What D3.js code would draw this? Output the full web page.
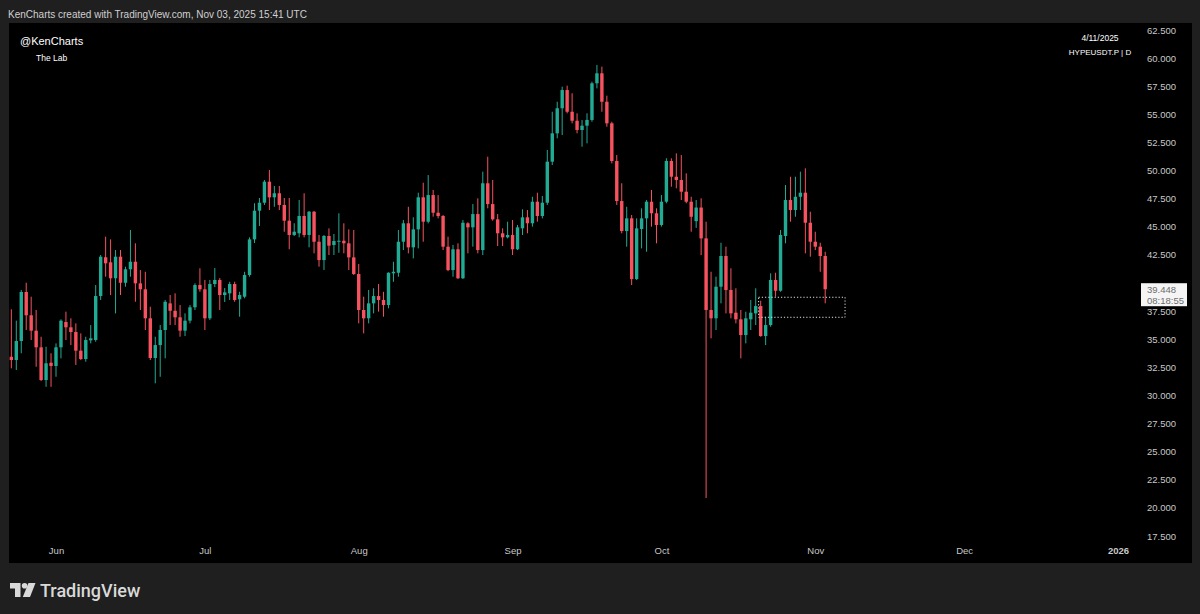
<!DOCTYPE html>
<html><head><meta charset="utf-8">
<script src="https://cdn.jsdelivr.net/npm/d3@7"></script>
<style>
html,body{margin:0;padding:0;background:#1f1f1f;}
svg{display:block;}
</style></head><body>
<svg id="chart" width="1200" height="614"></svg>
<script>
// ---- DATA ----
const startDate = "2025-05-23"; // first daily candle, HYPEUSDT.P 1D
const open = [33.44,33.15,34.84,39.20,37.13,35.76,34.28,31.37,32.91,32.62,
34.28,36.53,36.06,35.64,33.98,33.24,34.90,34.93,38.84,42.29,
41.84,40.42,42.34,40.02,41.22,41.89,39.97,39.44,36.86,33.33,
34.48,35.82,38.19,37.53,36.95,35.76,36.65,37.84,39.82,39.44,
36.86,39.91,40.27,38.93,39.08,39.91,38.55,38.78,40.71,43.88,
46.43,47.14,49.01,47.62,47.98,46.94,45.54,44.27,44.42,45.96,
44.27,46.34,43.67,42.04,44.18,43.38,43.67,43.76,43.53,42.28,
40.80,37.60,36.86,38.19,38.84,38.49,38.04,40.86,40.91,43.67,
45.31,43.17,44.77,47.62,45.45,47.82,46.25,45.96,43.23,41.15,
43.00,40.42,45.31,44.95,46.13,42.93,48.87,47.02,45.66,44.42,
44.06,44.27,43.00,44.86,45.84,45.31,47.23,45.96,47.14,50.79,
53.31,55.54,57.16,55.23,54.43,53.61,53.99,54.50,57.76,58.65,
56.12,54.20,50.85,47.29,44.62,45.75,40.35,44.80,45.75,47.23,
46.20,45.16,47.23,50.85,49.45,49.16,48.12,47.23,45.50,46.71,
43.97,37.60,36.86,39.67,42.40,39.38,37.36,36.77,35.37,36.77,
37.30,37.95,35.28,36.26,40.27,39.31,44.18,47.38,46.49,47.67,
48.03,45.36,43.67,43.23,42.40];
const high = [37.66,36.65,39.38,40.02,38.78,37.60,35.22,34.33,33.75,34.63,
36.77,37.45,36.86,36.41,35.52,35.22,36.26,39.82,42.49,44.12,
43.88,42.93,42.93,41.45,44.71,43.53,41.15,41.00,37.89,35.22,
36.26,38.49,38.93,39.08,38.04,37.30,38.04,39.97,41.31,40.27,
40.27,41.33,40.44,39.55,40.11,40.11,39.22,41.00,44.06,47.09,
47.56,49.16,50.05,48.63,48.63,47.56,47.56,45.31,47.38,47.98,
46.40,46.40,44.27,44.27,44.86,44.36,46.20,45.31,44.77,44.71,
41.69,38.78,39.38,39.53,39.91,39.22,40.95,41.89,44.71,45.60,
46.78,45.84,48.03,48.92,49.60,48.27,47.82,46.05,44.12,43.38,
43.53,45.60,45.40,47.02,47.53,49.90,51.23,49.16,46.13,44.86,
45.45,45.60,45.16,46.55,46.49,47.67,48.03,47.74,51.83,55.23,
56.12,57.46,57.55,56.87,55.09,54.50,55.09,57.90,59.39,59.24,
56.66,54.34,51.38,48.87,46.78,46.05,45.75,46.64,47.38,48.27,
46.64,47.82,51.09,51.09,51.53,51.38,49.75,47.67,47.38,47.53,
45.45,41.00,40.56,43.58,43.23,41.31,39.53,37.60,37.45,38.49,
39.53,38.42,37.00,40.86,40.91,44.71,48.71,49.45,49.45,49.90,
50.20,46.34,44.56,43.58,42.78];
const low = [32.41,32.26,33.75,35.82,34.93,32.55,31.28,30.77,30.77,31.66,
33.30,34.93,34.48,32.71,33.15,33.00,34.63,34.78,38.49,40.56,
38.93,37.30,38.93,39.67,40.56,38.33,37.60,35.82,33.15,31.08,
31.66,33.30,36.26,36.26,35.22,35.28,36.41,37.60,39.22,35.82,
36.71,39.64,37.60,38.31,38.49,38.33,37.00,38.64,40.56,43.56,
45.07,46.94,46.49,46.78,46.49,44.56,43.00,44.18,44.06,44.06,
43.17,42.64,41.45,41.15,42.49,42.49,42.69,42.64,41.15,40.71,
36.41,35.52,36.41,37.30,37.45,37.00,37.75,40.11,40.56,42.93,
42.64,42.19,43.08,43.67,45.30,45.90,45.75,42.93,41.05,40.56,
40.35,40.35,42.64,43.23,42.64,42.49,46.64,45.54,43.29,43.29,
43.97,42.49,42.93,44.27,44.42,45.01,45.45,45.75,46.94,50.49,
52.87,53.16,55.09,54.20,53.31,52.12,52.42,54.34,57.31,55.23,
53.90,50.64,46.94,44.42,43.23,39.82,40.27,43.08,42.78,45.01,
43.53,45.01,47.09,48.56,48.42,47.38,47.09,44.56,44.90,42.49,
20.88,35.08,35.82,38.19,37.30,36.86,36.41,33.30,34.63,35.82,
36.26,35.22,34.48,36.11,38.78,39.22,43.53,45.45,45.89,46.49,
42.64,42.34,42.93,41.00,38.19];
const close = [33.15,34.84,39.20,37.13,35.76,34.28,31.37,32.86,32.62,34.28,
36.65,36.06,35.64,33.98,33.24,34.93,35.08,38.84,42.34,41.75,
40.42,42.34,40.02,41.22,41.89,39.97,39.44,36.86,33.33,34.48,
35.82,38.33,37.53,36.95,35.76,36.65,37.84,39.82,39.44,36.86,
39.91,40.27,38.93,39.17,39.91,38.49,38.93,40.71,43.88,46.43,
47.14,49.01,47.62,47.98,46.94,45.54,44.27,44.56,45.96,44.27,
46.34,43.67,42.04,44.18,43.32,43.73,43.76,43.53,42.28,40.80,
37.60,36.86,38.19,38.84,38.49,38.04,40.91,41.00,43.67,45.31,
43.17,44.77,47.62,45.45,47.82,46.25,45.96,43.23,41.15,43.00,
40.42,45.36,44.95,46.13,42.93,48.87,47.02,45.66,44.42,44.06,
44.27,43.00,44.95,45.84,45.31,47.23,45.96,47.14,50.79,53.31,
55.54,57.16,55.23,54.43,53.61,53.99,54.50,57.76,58.65,56.12,
54.20,50.85,47.29,44.62,45.75,40.35,44.86,45.75,47.23,46.20,
45.16,47.23,50.85,49.45,49.16,48.12,47.23,45.89,46.71,43.97,
37.60,36.86,39.67,42.40,39.38,37.30,36.77,35.37,36.86,37.36,
37.95,35.28,36.26,40.27,39.31,44.27,47.38,46.49,47.67,48.03,
45.36,43.67,43.23,42.40,39.448];
const priceTicks = [17.5,20,22.5,25,27.5,30,32.5,35,37.5,40,42.5,45,47.5,50,52.5,55,57.5,60,62.5];
const monthTicks = ["2025-06-01","2025-07-01","2025-08-01","2025-09-01","2025-10-01","2025-11-01","2025-12-01","2026-01-01"];
const monthLabels = ["Jun","Jul","Aug","Sep","Oct","Nov","Dec","2026"];
const lastPrice = 39.448;
const countdown = "08:18:55";
const zoneDates = ["2025-10-20T14:00:00Z","2025-11-07T00:00:00Z"];
const zonePrices = [38.73, 36.95];
const headerText = "KenCharts created with TradingView.com, Nov 03, 2025 15:41 UTC";
const author = "@KenCharts";
const subtitle = "The Lab";
const symbolDate = "4/11/2025";
const symbolText = "HYPEUSDT.P | D";

// ---- LAYOUT ----
const svg = d3.select("#chart");
const UP = "#22ab94", DOWN = "#f7525f";
const FONT = "'Liberation Sans', Arial, sans-serif";
const pane = {x0: 9, y0: 23, x1: 1192, y1: 563};

svg.append("rect").attr("x",0).attr("y",0).attr("width",1200).attr("height",614).attr("fill","#1f1f1f");
svg.append("rect").attr("x",pane.x0).attr("y",pane.y0).attr("width",pane.x1-pane.x0).attr("height",pane.y1-pane.y0).attr("fill","#000");

const parse = d3.utcParse("%Y-%m-%d");
const t0 = parse(startDate);
const data = close.map((c,i)=>({date:d3.utcDay.offset(t0,i), o:open[i], h:high[i], l:low[i], c:c}));

const x = d3.scaleUtc().domain([parse("2025-06-01"), parse("2026-01-01")]).range([56, 1118]);
const y = d3.scaleLinear().domain([17.5, 62.5]).range([536, 30]);

const clipId = "plotclip";
svg.append("clipPath").attr("id",clipId).append("rect")
  .attr("x",pane.x0).attr("y",pane.y0).attr("width",1135-pane.x0).attr("height",540-pane.y0);

const plot = svg.append("g").attr("clip-path",`url(#${clipId})`);
const bw = 3.4;
const cg = plot.selectAll("g.candle").data(data).join("g").attr("class","candle");
cg.append("line")
  .attr("x1",d=>x(d.date)).attr("x2",d=>x(d.date))
  .attr("y1",d=>y(d.h)).attr("y2",d=>y(d.l))
  .attr("stroke",d=>d.c>=d.o?UP:DOWN).attr("stroke-width",1);
cg.append("rect")
  .attr("x",d=>x(d.date)-bw/2).attr("width",bw)
  .attr("y",d=>y(Math.max(d.o,d.c)))
  .attr("height",d=>Math.max(1,Math.abs(y(d.o)-y(d.c))))
  .attr("fill",d=>d.c>=d.o?UP:DOWN);

// dotted zone
const zx0 = x(new Date(zoneDates[0])), zx1 = x(new Date(zoneDates[1]));
plot.append("rect").attr("x",zx0).attr("y",y(zonePrices[0]))
  .attr("width",zx1-zx0).attr("height",y(zonePrices[1])-y(zonePrices[0]))
  .attr("fill","none").attr("stroke","#e0e0e0").attr("stroke-width",1).attr("stroke-dasharray","1.2,2");

// price axis (the 40.000 label sits under the last-price badge, so only its top edge shows)
const ly = y(lastPrice);
svg.append("clipPath").attr("id","axisclip").append("rect")
  .attr("x",1136).attr("y",0).attr("width",60).attr("height",ly-6);
svg.append("clipPath").attr("id","axisclip2").append("rect")
  .attr("x",1136).attr("y",ly+17).attr("width",60).attr("height",614);
const yAxis = d3.axisRight(y).tickValues(priceTicks).tickFormat(d3.format(".3f")).tickSize(0).tickPadding(0);
const ya = svg.append("g").attr("transform","translate(1147,0)").call(yAxis);
ya.select(".domain").remove();
ya.selectAll("text").attr("fill","#c8c8c8").attr("font-size",9.5).attr("font-family",FONT);
ya.selectAll(".tick").filter(d=>Math.abs(y(d)-ly)<10 && d>lastPrice).select("text")
  .attr("clip-path","url(#axisclip)");

// time axis
const xAxis = d3.axisBottom(x).tickValues(monthTicks.map(parse)).tickFormat((d,i)=>monthLabels[i]).tickSize(0).tickPadding(0);
const xa = svg.append("g").attr("transform","translate(0,547)").call(xAxis);
xa.select(".domain").remove();
xa.selectAll("text").attr("fill","#c8c8c8").attr("font-size",9.5).attr("font-family",FONT)
  .attr("font-weight",(d,i)=>monthLabels[i]==="2026"?"bold":"normal");

// last price label
svg.append("rect").attr("x",1141).attr("y",ly-6).attr("width",46).attr("height",23).attr("fill","#f5f5f5");
svg.append("text").attr("x",1147).attr("y",ly+3.3).text(d3.format(".3f")(lastPrice))
  .attr("fill","#6d6d6d").attr("font-size",9.5).attr("font-family",FONT);
svg.append("text").attr("x",1147).attr("y",ly+14.6).text(countdown)
  .attr("fill","#6d6d6d").attr("font-size",9.5).attr("font-family",FONT);

// titles
svg.append("text").attr("x",8).attr("y",17.5).text(headerText)
  .attr("fill","#d0d0d0").attr("font-size",10).attr("font-family",FONT);
svg.append("text").attr("x",20).attr("y",44.5).text(author)
  .attr("fill","#ffffff").attr("font-size",11).attr("font-family",FONT);
svg.append("text").attr("x",36).attr("y",61).text(subtitle)
  .attr("fill","#ffffff").attr("font-size",8.5).attr("font-family",FONT);
svg.append("text").attr("x",1100).attr("y",41).attr("text-anchor","middle").text(symbolDate)
  .attr("fill","#ffffff").attr("font-size",8.5).attr("font-family",FONT);
svg.append("text").attr("x",1100).attr("y",55).attr("text-anchor","middle").text(symbolText)
  .attr("fill","#ffffff").attr("font-size",8).attr("font-family",FONT);

// TradingView logo
const logo = svg.append("g").attr("fill","#d9d9d9");
logo.append("path").attr("d","M10,583 H20.5 V597 H15 V588.5 H10 Z");
logo.append("circle").attr("cx",24.6).attr("cy",585.8).attr("r",2.8);
logo.append("path").attr("d","M28.5,583 H35.5 L30,597 H22.8 Z");
svg.append("text").attr("x",40).attr("y",596.5).text("TradingView")
  .attr("fill","#d9d9d9").attr("font-size",18).attr("font-family","Roboto, 'Liberation Sans', sans-serif").attr("font-weight",500);
</script>
</body></html>
